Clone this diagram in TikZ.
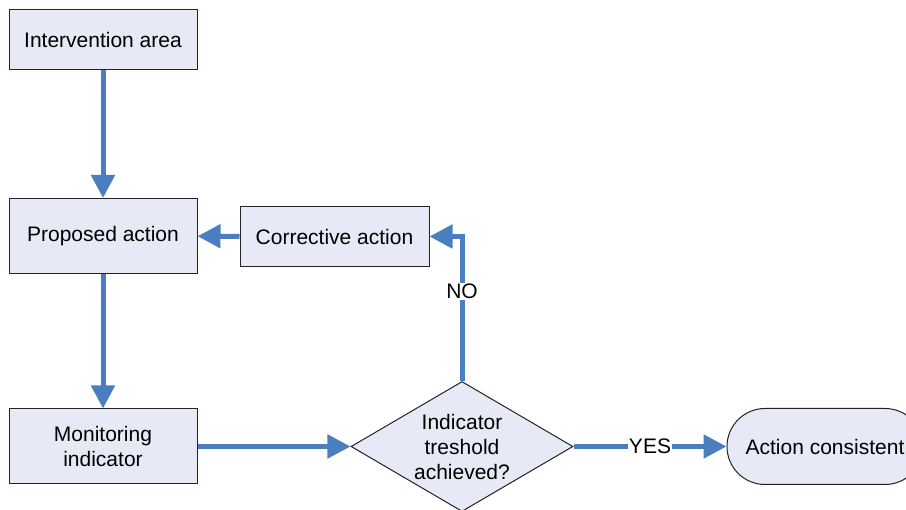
\documentclass[tikz,border=0pt]{standalone}
\usepackage{fontspec}
\setmainfont{Liberation Sans}
\usetikzlibrary{arrows.meta,shapes.geometric}
\definecolor{lineblue}{RGB}{74,126,190}
\definecolor{boxfill}{RGB}{231,234,246}
\definecolor{boxline}{RGB}{35,35,35}
\begin{document}
\begin{tikzpicture}[x=1pt,y=-1pt,
   font=\fontsize{21}{25}\selectfont,
   box/.style={draw=boxline,fill=boxfill,line width=1pt,minimum width=188pt,align=center,inner sep=0pt},
   flow/.style={draw=lineblue,line width=5pt,-{Triangle[length=23pt,width=23pt]}},
   lbl/.style={fill=white,inner sep=1pt}]
   \useasboundingbox (0,0) rectangle (906,510);
   \node[box,minimum height=60pt] (a) at (103,40) {Intervention area};
   \node[box,minimum height=75pt] (b) at (103,236) {Proposed action};
   \node[box,minimum height=60pt,minimum width=189pt] (c) at (334.5,236.5) {Corrective action};
   \node[box,minimum height=75pt] (d) at (103,446.5) {Monitoring\\indicator};
   \node[box,diamond,shape aspect=1.71,inner sep=-6pt,minimum width=222pt,minimum height=130pt] (e) at (462,446.5) {Indicator\\treshold\\achieved?};
   \node[box,rounded corners=38pt,minimum width=196pt,minimum height=76pt] (f) at (825,446.5) {Action consistent};

   \draw[flow] (a) -- (b);
   \draw[flow] (b) -- (d);
   \draw[flow] (d) -- (e);
   \draw[flow] (e.north) |- node[lbl,pos=.31] {NO} (c.east);
   \draw[flow] (c) -- (b);
   \draw[flow] (e) -- node[lbl] {YES} (f);
\end{tikzpicture}
\end{document}
